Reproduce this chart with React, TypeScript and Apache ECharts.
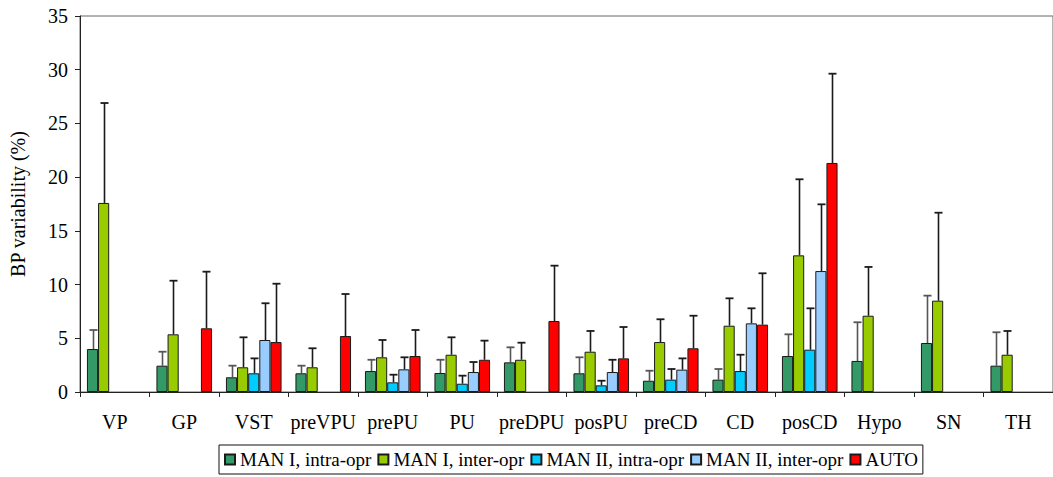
import React, { useEffect, useRef } from "react";
import * as echarts from "echarts";

const categories = ["VP", "GP", "VST", "preVPU", "prePU", "PU", "preDPU", "posPU", "preCD", "CD", "posCD", "Hypo", "SN", "TH"];
const seriesNames = ["MAN I, intra-opr", "MAN I, inter-opr", "MAN II, intra-opr", "MAN II, inter-opr", "AUTO"];
const seriesColors = ["#339966", "#99cc00", "#00ccff", "#99ccff", "#ff0000"];

// mean values
const manIIntra = [4.0, 2.45, 1.37, 1.74, 1.95, 1.77, 2.76, 1.74, 1.05, 1.15, 3.35, 2.89, 4.56, 2.45];
const manIInter = [17.6, 5.37, 2.3, 2.3, 3.23, 3.47, 3.0, 3.75, 4.65, 6.17, 12.72, 7.1, 8.5, 3.47];
const manIIIntra = [null, null, 1.74, null, 0.9, 0.77, null, 0.62, 1.15, 1.95, 3.94, null, null, null];
const manIIInter = [null, null, 4.84, null, 2.11, 1.86, null, 1.86, 2.08, 6.39, 11.26, null, null, null];
const auto = [null, 5.93, 4.65, 5.21, 3.35, 3.0, 6.61, 3.13, 4.07, 6.27, 21.32, null, null, null];

// upper ends of the error bars
const manIIntraUpper = [5.77, 3.75, 2.45, 2.45, 3.0, 3.0, 4.16, 3.23, 1.98, 2.14, 5.37, 6.49, 8.97, 5.56];
const manIInterUpper = [26.9, 10.36, 5.09, 4.07, 4.84, 5.09, 4.59, 5.68, 6.77, 8.72, 19.8, 11.64, 16.69, 5.68];
const manIIIntraUpper = [null, null, 3.13, null, 1.61, 1.52, null, 1.05, 2.14, 3.47, 7.79, null, null, null];
const manIIInterUpper = [null, null, 8.26, null, 3.23, 2.79, null, 3.0, 3.13, 7.79, 17.47, null, null, null];
const autoUpper = [null, 11.2, 10.08, 9.12, 5.77, 4.78, 11.76, 6.05, 7.1, 11.05, 29.63, null, null, null];

const yTicks = { min: 0, max: 35, interval: 5 };

const means = [manIIntra, manIInter, manIIIntra, manIIInter, auto];
const uppers = [manIIntraUpper, manIInterUpper, manIIIntraUpper, manIIInterUpper, autoUpper];

const FONT = "Liberation Serif";

export default function App() {
  const ref = useRef<HTMLDivElement>(null);
  useEffect(() => {
    if (!ref.current) return;
    const chart = echarts.init(ref.current, null, { renderer: "svg" });
    const nSeries = seriesNames.length;
    const barSeries = seriesNames.map((name, i) => ({
      name,
      type: "bar",
      data: means[i],
      barGap: "0%",
      barCategoryGap: "20%",
      itemStyle: { color: seriesColors[i], borderColor: "#1a1a1a", borderWidth: 1 },
    }));
    const errSeries = seriesNames.map((name, i) => ({
      name: "err" + i,
      type: "custom",
      z: 1,
      encode: { x: 0, y: [1, 2] },
      data: categories
        .map((c, k) => [k, means[i][k], uppers[i][k]])
        .filter((d) => d[1] != null && d[2] != null),
      renderItem: (params: any, api: any) => {
        const cat = api.value(0);
        const mean = api.value(1);
        const up = api.value(2);
        const p0 = api.coord([cat, mean]);
        const p1 = api.coord([cat, up]);
        const band = api.size([1, 0])[0];
        const bw = (band * 0.8) / nSeries;
        const x = Math.round(p0[0] - band * 0.4 + (i + 0.5) * bw) + 0.5;
        const col = i === 0 ? "#555" : "#1a1a1a";
        return {
          type: "group",
          children: [
            { type: "line", shape: { x1: x, y1: p0[1], x2: x, y2: p1[1] }, style: { stroke: col, lineWidth: 1.6 } },
            { type: "line", shape: { x1: x - 4, y1: p1[1], x2: x + 4, y2: p1[1] }, style: { stroke: col, lineWidth: 1.8 } },
          ],
        };
      },
    }));
    chart.setOption({
      animation: false,
      textStyle: { fontFamily: FONT },
      grid: { left: 78, right: -9, top: 16, bottom: 85, show: true, borderColor: "#666", borderWidth: 1 },
      legend: {
        data: seriesNames,
        top: 445,
        left: 219,
        itemWidth: 10,
        itemHeight: 10,
        itemGap: 6,
        padding: [5, 5],
        borderColor: "#111",
        borderWidth: 1,
        icon: "rect",
        textStyle: { fontFamily: FONT, fontSize: 19, color: "#000", padding: [0, 0, 0, 0] },
      },
      xAxis: {
        type: "category",
        data: categories,
        axisLine: { lineStyle: { color: "#222", width: 1 } },
        axisTick: { show: true, length: 5, lineStyle: { color: "#222" } },
        axisLabel: { fontFamily: FONT, fontSize: 20, color: "#000", margin: 20, interval: 0 },
      },
      yAxis: {
        type: "value",
        min: yTicks.min,
        max: yTicks.max,
        interval: yTicks.interval,
        name: "BP variability (%)",
        nameLocation: "middle",
        nameGap: 52,
        nameTextStyle: { fontFamily: FONT, fontSize: 20, color: "#000" },
        splitLine: { show: false },
        axisLine: { show: true, lineStyle: { color: "#222", width: 1 } },
        axisTick: { show: true, length: 5, lineStyle: { color: "#222" } },
        axisLabel: { fontFamily: FONT, fontSize: 20, color: "#000", margin: 12 },
      },
      series: [...barSeries, ...errSeries],
    });
    return () => chart.dispose();
  }, []);
  return <div ref={ref} style={{ position: "absolute", left: 0, top: 0, width: 1053, height: 477 }} />;
}
